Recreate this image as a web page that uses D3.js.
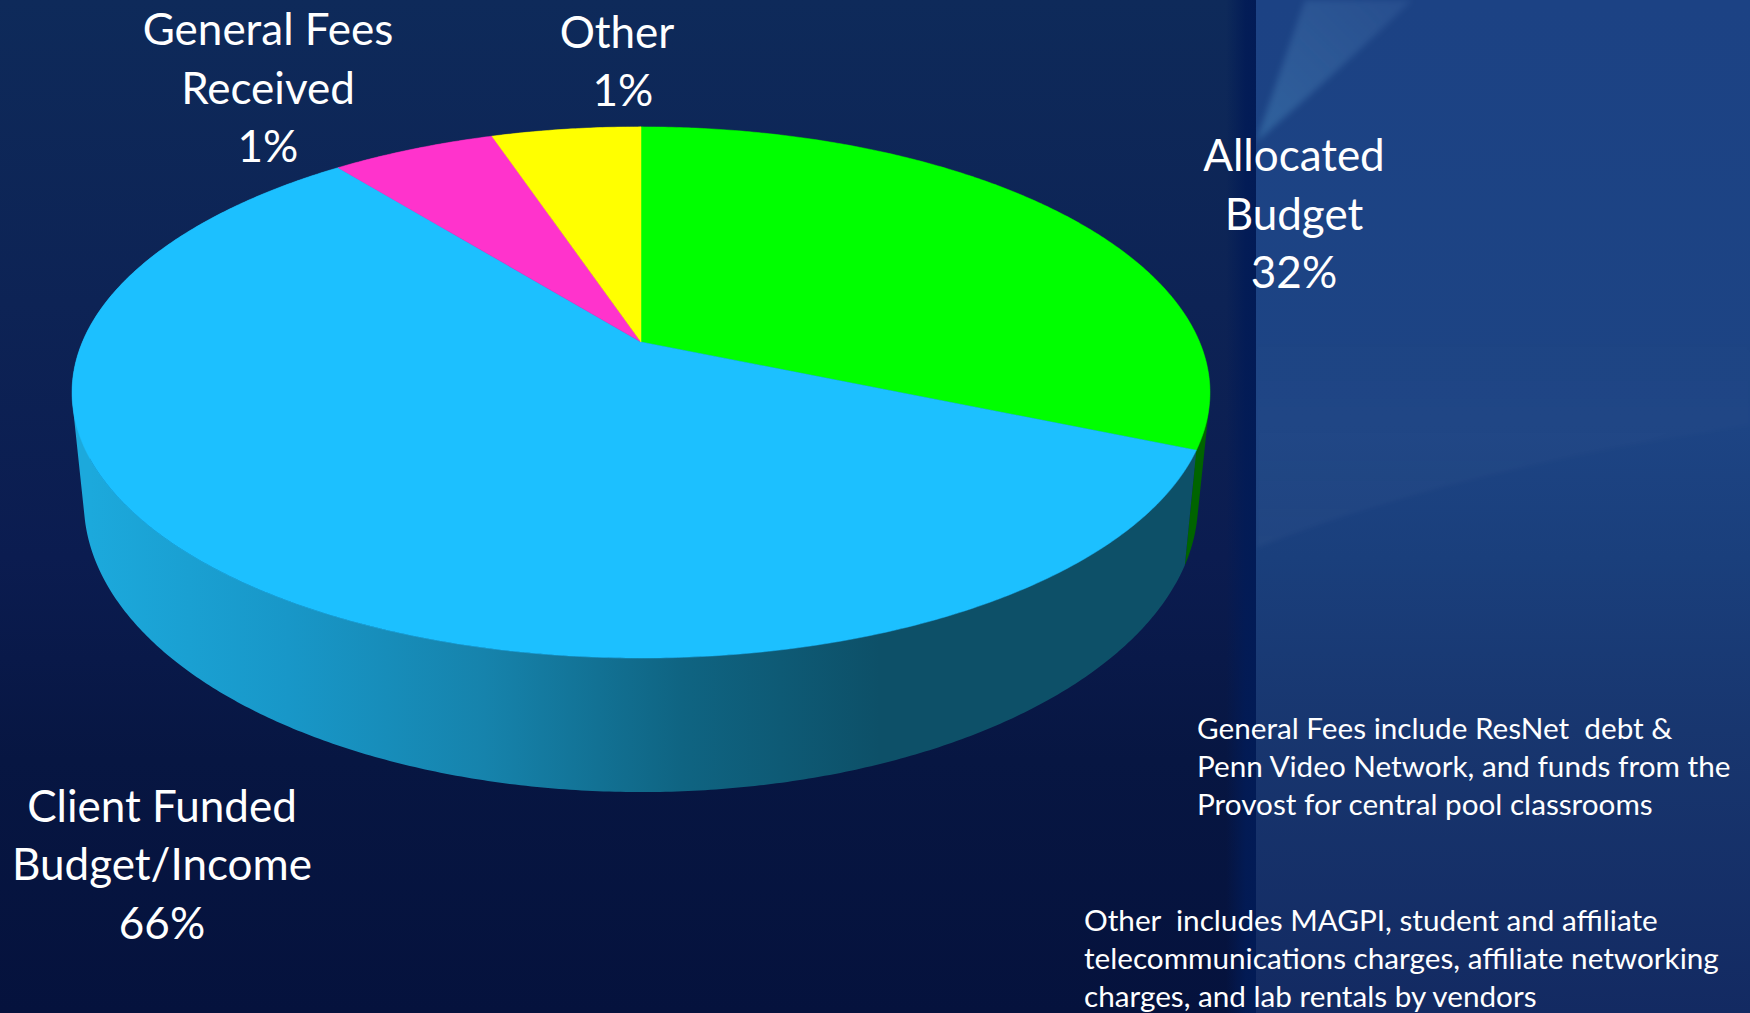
<!DOCTYPE html>
<html>
<head>
<meta charset="utf-8">
<script src="https://cdnjs.cloudflare.com/ajax/libs/d3/7.8.5/d3.min.js"></script>
<style>
  html, body { margin: 0; padding: 0; background: #05123d; overflow: hidden; }
  text { font-family: Lato, "Noto Sans", sans-serif; fill: #fff; white-space: pre; }
</style>
</head>
<body>
<div id="vis"></div>
<script>
// slice sizes as they are drawn (the printed percentages do not match the drawing)
let sliceNames = ['Allocated Budget', 'Client Funded Budget/Income', 'General Fees Received', 'Other'];
let sliceShares = [31.4, 57.9, 5.6, 5.1];
let sliceColors = ['#00ff00', '#1cc0ff', '#ff33cc', '#ffff00'];

let labelLines = [
  ['Allocated', 'Budget', '32%'],
  ['Client Funded', 'Budget/Income', '66%'],
  ['General Fees', 'Received', '1%'],
  ['Other', '1%']
];
let labelCenters = [[1294, 1294, 1294], [162, 162, 162], [268, 268, 268], [617, 623]];
let labelBaselines = [171, 821.5, 45, 47.5];

let noteLines = [
  ['General Fees include ResNet  debt &', 'Penn Video Network, and funds from the', 'Provost for central pool classrooms'],
  ['Other  includes MAGPI, student and affiliate', 'telecommunications charges, affiliate networking', 'charges, and lab rentals by vendors']
];
let noteLeft = [1197, 1084];
let noteBaselines = [739, 931];

let width = 1750, height = 1013;

let svg = d3.select('#vis')
  .append('svg')
  .attr('width', width)
  .attr('height', height)
  .attr('viewBox', [0, 0, width, height].join(' '))
  .style('display', 'block');

let defs = svg.append('defs');

function gradient(id, stops, x1, y1, x2, y2) {
  let g = defs.append('linearGradient')
    .attr('id', id)
    .attr('gradientUnits', 'userSpaceOnUse')
    .attr('x1', x1).attr('y1', y1).attr('x2', x2).attr('y2', y2);
  stops.forEach(s => g.append('stop').attr('offset', s[0]).attr('stop-color', s[1]));
}

// background: dark panel, lighter panel on the right
gradient('bgLeft', [[0, '#0e2a5a'], [0.3, '#0d2355'], [0.55, '#0b1c50'], [0.75, '#071642'], [1, '#05123d']], 0, 0, 0, height);
gradient('bgRight', [[0, '#1c4284'], [0.42, '#1d4484'], [0.55, '#1a3f7c'], [0.72, '#18366f'], [1, '#132a62']], 0, 0, 0, height);
gradient('seam', [[0, 'rgba(2,27,86,0)'], [0.65, 'rgba(2,27,86,0.9)'], [1, 'rgba(2,27,86,1)']], 1226, 0, 1256, 0);
gradient('streak', [[0, 'rgba(120,170,215,0.12)'], [1, 'rgba(90,170,215,0.3)']], 1400, 0, 1260, 140);
gradient('swoosh', [[0, 'rgba(255,255,255,0)'], [1, 'rgba(255,255,255,0.03)']], 0, 330, 0, 550);

defs.append('filter').attr('id', 'soft').append('feGaussianBlur').attr('stdDeviation', 3);
defs.append('filter').attr('id', 'softer').append('feGaussianBlur').attr('stdDeviation', 2);

svg.append('rect').attr('width', width).attr('height', height).attr('fill', 'url(#bgLeft)');
svg.append('rect').attr('x', 1256).attr('width', width - 1256).attr('height', height).attr('fill', 'url(#bgRight)');
svg.append('rect').attr('x', 1226).attr('width', 30).attr('height', height).attr('fill', 'url(#seam)');

let clip = defs.append('clipPath').attr('id', 'rightPanel');
clip.append('rect').attr('x', 1256).attr('width', width - 1256).attr('height', height);

let glow = svg.append('g').attr('clip-path', 'url(#rightPanel)');
glow.append('path')
  .attr('d', 'M1256,142 L1305,0 L1412,0 Q1340,70 1256,142 Z')
  .attr('fill', 'url(#streak)')
  .attr('filter', 'url(#soft)');
glow.append('path')
  .attr('d', 'M1256,548 Q1450,470 1750,425 L1750,330 L1256,330 Z')
  .attr('fill', 'url(#swoosh)')
  .attr('filter', 'url(#softer)');

// perspective view of the pie: u runs right, v runs toward the viewer
function rim(cy, b, a, k) {
  return angle => {
    let u = Math.sin(angle), v = -Math.cos(angle), w = 1 - k * v;
    return [641 + a * u / w, cy + b * v / w];
  };
}
let topRim = rim(342, 256, 558.6, 0.19);
let bottomRim = rim(447, 279.5, 547, 0.19);

let arcs = d3.pie().sort(null)(sliceShares);
let color = d3.scaleOrdinal().domain(sliceNames).range(sliceColors);
let line = d3.line();

function arcAngles(d) {
  let n = Math.ceil((d.endAngle - d.startAngle) * 120);
  return d3.range(n + 1).map(i => d.startAngle + (d.endAngle - d.startAngle) * i / n);
}

gradient('wallBlue', [[0, '#1ca9dc'], [0.25, '#1897c8'], [0.5, '#1683ac'], [0.75, '#0f6482'], [1, '#0d5068']], 90, 0, 880, 0);

let wallFill = ['#006400', 'url(#wallBlue)', '#8c1c70', '#8c8c00'];

// the wall is swept quad by quad so the silhouette joins the two rims.
// all quads get the same winding or the fold at the silhouette cancels out
function wallQuad(p) {
  let quad = [topRim(p[0]), topRim(p[1]), bottomRim(p[1]), bottomRim(p[0])];
  if (d3.polygonArea(quad) < 0) quad.reverse();
  return line(quad) + 'Z';
}

svg.append('g').selectAll('path')
  .data(arcs)
  .join('path')
  .attr('d', d => d3.pairs(arcAngles(d)).map(wallQuad).join(''))
  .attr('fill', (d, i) => wallFill[i]);

svg.append('g').selectAll('path')
  .data(arcs)
  .join('path')
  .attr('d', d => line([topRim(d.startAngle)].concat(arcAngles(d).map(topRim), [[641, 342]])) + 'Z')
  .attr('fill', (d, i) => color(sliceNames[i]))
  .attr('stroke', (d, i) => color(sliceNames[i]))
  .attr('stroke-width', 0.5);

// slice labels
labelLines.forEach((lines, i) => {
  svg.append('g').selectAll('text')
    .data(lines)
    .join('text')
    .attr('x', (d, j) => labelCenters[i][j])
    .attr('y', (d, j) => labelBaselines[i] + j * 58.6)
    .attr('text-anchor', 'middle')
    .attr('font-size', 44)
    .text(d => d);
});

// footnotes
noteLines.forEach((lines, i) => {
  svg.append('g').selectAll('text')
    .data(lines)
    .join('text')
    .attr('x', noteLeft[i])
    .attr('y', (d, j) => noteBaselines[i] + j * 38)
    .attr('font-size', 29.7)
    .text(d => d);
});
</script>
</body>
</html>
